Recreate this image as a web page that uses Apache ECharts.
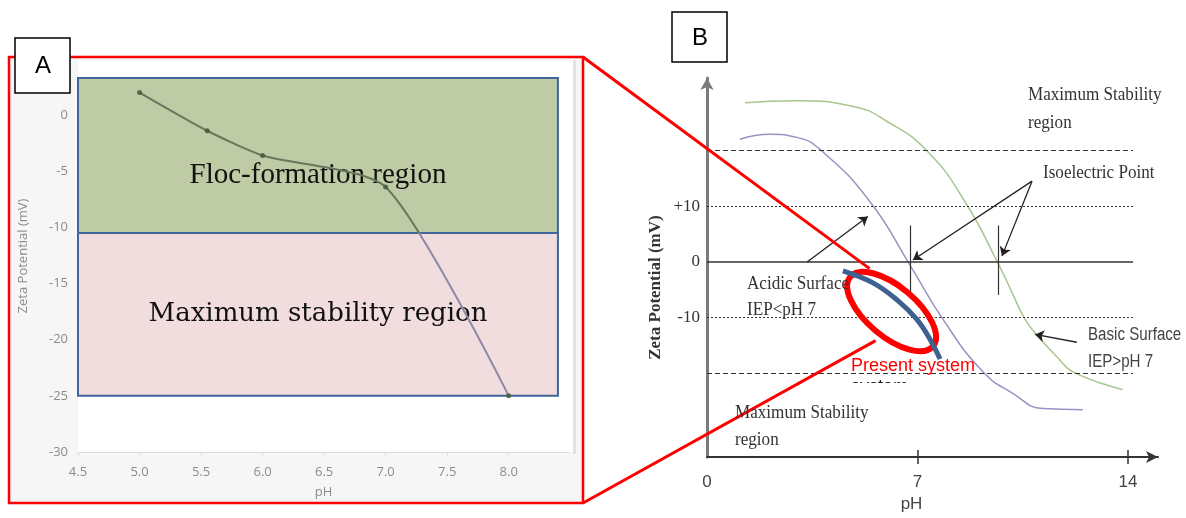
<!DOCTYPE html>
<html>
<head>
<meta charset="utf-8">
<script src="https://cdn.jsdelivr.net/npm/echarts@6/dist/echarts.min.js"></script>
<style>
  html, body { margin: 0; padding: 0; background: #ffffff; }
  #main { width: 1186px; height: 518px; }
</style>
</head>
<body>
<div id="main"></div>
<script>
// ---------- Panel A: measured zeta potential of the present system ----------
const phA = [5.0, 5.55, 6.0, 7.0, 8.0];
const zetaA = [2.0, -1.4, -3.6, -6.4, -25.0];
const xTicksA = [4.5, 5.0, 5.5, 6.0, 6.5, 7.0, 7.5, 8.0];
const yTicksA = [-30, -25, -20, -15, -10, -5, 0];
const bandPH = [4.5, 8.4];
const flocBand = [3.3, -10.5];          // floc-formation region (mV)
const stabilityBand = [-10.5, -25.0];   // maximum stability region (mV)

// ---------- Panel B: schematic zeta potential curves ----------
const greenPH = [1.26, 2.99, 4.86, 5.99, 7.32, 8.58, 9.71, 10.18, 10.58, 10.97, 11.64, 12.17, 13.83];
const greenZeta = [28.55, 28.9, 27.9, 25.2, 19.9, 10.8, -0.55, -5.9, -10.3, -13.1, -17.0, -19.7, -22.9];
const purplePH = [1.10, 2.10, 2.99, 3.82, 5.42, 6.75, 7.85, 9.18, 10.18, 11.17, 12.50];
const purpleZeta = [22.0, 22.9, 22.35, 19.9, 10.8, -0.55, -10.3, -19.7, -23.6, -26.3, -26.5];
const presentPH = [4.52, 5.52, 6.32, 6.98, 7.42, 7.75];
const presentZeta = [-1.6, -3.75, -6.8, -10.3, -13.9, -17.4];

const xTicksB = [0, 7, 14];
const yTicksB = [-10, 0, 10];
const refLevels = [20, 10, 0, -10, -20];
const refKinds = ['dashed', 'dotted', 'solid', 'dotted', 'dashed'];
const refEndPH = 14.17;
const iepPH = [6.75, 9.68];
const iepSpan = [6.55, -5.9];
// arrows: [from, to] in (pH, mV)
const arrowsB = [
  [[3.33, 0], [5.35, 8.15]],
  [[10.81, 14.5], [6.85, 0.35]],
  [[10.81, 14.5], [9.81, 1.05]],
  [[12.30, -14.4], [10.91, -13.0]]
];
const highlightCenter = [6.14, -8.9];   // centre of the "present system" ellipse

const zip = (a, b) => a.map((v, i) => [v, b[i]]);
const serif = '"Liberation Serif", "Times New Roman", serif';
const sans = '"Liberation Sans", Arial, sans-serif';
const uiFont = '"Open Sans", sans-serif';

const chart = echarts.init(document.getElementById('main'), null, { renderer: 'canvas' });

const dashFor = k => k === 'dashed' ? [5, 3] : (k === 'dotted' ? [2, 2] : 'solid');

// measured curve: greenish over the floc band, greyish purple over the stability band
const zMax = Math.max(...zetaA), zMin = Math.min(...zetaA);
const split = (zMax - flocBand[1]) / (zMax - zMin);
const measuredColor = new echarts.graphic.LinearGradient(0, 0, 0, 1, [
  { offset: 0, color: '#66785d' }, { offset: split, color: '#66785d' },
  { offset: split, color: '#8f88a6' }, { offset: 1, color: '#8f88a6' }
]);

const option = {
  animation: false,
  grid: [
    { left: 78, top: 60, width: 491, height: 392 },
    { left: 707, top: 78, width: 451, height: 383 }
  ],
  xAxis: [
    {
      gridIndex: 0, type: 'value', min: 4.5, max: 8.49,
      axisLine: { onZero: false, lineStyle: { color: '#dcdcdc' } },
      axisTick: { show: true, customValues: xTicksA, length: 4, lineStyle: { color: '#dddddd' } },
      splitLine: { show: false },
      axisLabel: { customValues: xTicksA, color: '#8c8c8c', fontSize: 13, margin: 14, fontFamily: uiFont,
        formatter: v => v.toFixed(1) },
      name: 'pH', nameLocation: 'middle', nameGap: 34,
      nameTextStyle: { color: '#8c8c8c', fontSize: 13, fontFamily: uiFont }
    },
    {
      gridIndex: 1, type: 'value', min: 0, max: 15,
      axisLine: { onZero: false, symbol: ['none', 'arrow'], symbolSize: [9, 12], lineStyle: { color: '#333333', width: 2 } },
      axisTick: { show: true, customValues: xTicksB.slice(1), length: 7, lineStyle: { color: '#333333', width: 1.5 } },
      axisLabel: { customValues: xTicksB, color: '#444444', fontSize: 17, margin: 17, fontFamily: sans },
      splitLine: { show: false },
      name: 'pH', nameLocation: 'middle', nameGap: 37,
      nameTextStyle: { color: '#444444', fontSize: 17, fontFamily: sans, padding: [0, 42, 0, 0] }
    },
    {
      gridIndex: 1, type: 'value', min: 0, max: 15, position: 'bottom',
      axisLine: { show: false, onZero: false },
      axisTick: { show: true, inside: true, customValues: xTicksB.slice(1), length: 7, lineStyle: { color: '#333333', width: 1.5 } },
      axisLabel: { show: false },
      splitLine: { show: false }
    }
  ],
  yAxis: [
    {
      gridIndex: 0, type: 'value', min: -30, max: 4.9,
      axisLine: { show: false, onZero: false }, axisTick: { show: false }, splitLine: { show: false },
      axisLabel: { customValues: yTicksA, color: '#8c8c8c', fontSize: 13, margin: 10, fontFamily: uiFont },
      name: 'Zeta Potential (mV)', nameLocation: 'middle', nameRotate: 90, nameGap: 48,
      nameTextStyle: { color: '#8c8c8c', fontSize: 13, fontFamily: uiFont }
    },
    {
      gridIndex: 1, type: 'value', min: -35, max: 33,
      axisLine: { show: true, onZero: false, symbol: ['none', 'arrow'], symbolSize: [10, 12], lineStyle: { color: '#7a7a7a', width: 3 } },
      axisTick: { show: false }, splitLine: { show: false },
      axisLabel: { customValues: yTicksB, color: '#333333', fontSize: 17, margin: 7, fontFamily: serif,
        formatter: v => v > 0 ? '+' + v : String(v) },
      name: 'Zeta Potential (mV)', nameLocation: 'middle', nameRotate: 90, nameGap: 43,
      nameTextStyle: { color: '#333333', fontSize: 17, fontWeight: 'bold', fontFamily: serif, padding: [0, 40, 0, 0] }
    }
  ],
  series: [
    {
      name: 'measured', type: 'line', xAxisIndex: 0, yAxisIndex: 0,
      data: zip(phA, zetaA), smooth: 0.22, showSymbol: false,
      lineStyle: { width: 2, color: measuredColor }, z: 3,
      markArea: {
        silent: true,
        itemStyle: { borderColor: '#41669a', borderWidth: 2 },
        data: [
          [{ xAxis: bandPH[0], yAxis: flocBand[0], itemStyle: { color: '#bfcba4' },
             label: { show: true, position: 'inside', offset: [0, 20], formatter: 'Floc-formation region',
                      fontFamily: serif, fontSize: 29, color: '#111111' } },
           { xAxis: bandPH[1], yAxis: flocBand[1] }],
          [{ xAxis: bandPH[0], yAxis: stabilityBand[0], itemStyle: { color: '#f1dddd' },
             label: { show: true, position: 'inside', formatter: 'Maximum stability region',
                      fontFamily: '"DejaVu Serif", serif', fontSize: 26, color: '#111111' } },
           { xAxis: bandPH[1], yAxis: stabilityBand[1] }]
        ]
      }
    },
    {
      name: 'points', type: 'scatter', xAxisIndex: 0, yAxisIndex: 0,
      data: zip(phA, zetaA), symbolSize: 5, itemStyle: { color: '#3f5538' }, z: 4
    },
    {
      name: 'basic', type: 'line', xAxisIndex: 1, yAxisIndex: 1,
      data: zip(greenPH, greenZeta), smooth: 0.5, showSymbol: false,
      lineStyle: { color: '#a7c78e', width: 1.5 }, z: 3
    },
    {
      name: 'acidic', type: 'line', xAxisIndex: 1, yAxisIndex: 1,
      data: zip(purplePH, purpleZeta), smooth: 0.5, showSymbol: false,
      lineStyle: { color: '#9d90c4', width: 1.5 }, z: 3
    },
    {
      name: 'present', type: 'line', xAxisIndex: 1, yAxisIndex: 1,
      data: zip(presentPH, presentZeta), smooth: 0.4, showSymbol: false,
      lineStyle: { color: '#3d6190', width: 5 }, z: 6
    },
    {
      name: 'levels', type: 'line', xAxisIndex: 1, yAxisIndex: 1, data: [],
      markLine: {
        silent: true, symbol: ['none', 'none'], label: { show: false },
        data: refLevels.map((lv, i) => [
          { coord: [0, lv], lineStyle: { color: '#333333', width: refKinds[i] === 'solid' ? 1.5 : 1.2, type: dashFor(refKinds[i]) } },
          { coord: [refEndPH, lv] }
        ]).concat(iepPH.map(p => [
          { coord: [p, iepSpan[0]], lineStyle: { color: '#333333', width: 1.2, type: 'solid' } },
          { coord: [p, iepSpan[1]] }
        ]))
      }
    },
    {
      name: 'arrows', type: 'line', xAxisIndex: 1, yAxisIndex: 1, data: [],
      markLine: {
        silent: true, symbol: ['none', 'arrow'], symbolSize: 9, label: { show: false },
        lineStyle: { color: '#222222', width: 1.3, type: 'solid' },
        data: arrowsB.map(a => [{ coord: a[0] }, { coord: a[1] }])
      }
    }
  ]
};

chart.setOption(option);

// Annotations: frames, panel letters, captions and the highlight ellipse
function txt(text, x, y, font, fill, sx) {
  return { type: 'text', z: 8, x, y, scaleX: sx || 1,
    style: { text, x: 0, y: 0, font, fill: fill || '#333333', textAlign: 'left', textVerticalAlign: 'middle' } };
}
const c = chart.convertToPixel({ gridIndex: 1 }, highlightCenter);
const rot = -40 * Math.PI / 180;
const graphics = [
  { type: 'rect', z: -5, shape: { x: 9, y: 57, width: 574, height: 446 }, style: { fill: '#f6f6f6' } },
  { type: 'rect', z: -4, shape: { x: 78, y: 60, width: 495, height: 392 }, style: { fill: '#ffffff' } },
  { type: 'line', z: -3, shape: { x1: 574.5, y1: 60, x2: 574.5, y2: 454 }, style: { stroke: '#e2e2e2', lineWidth: 3 } },
  { type: 'rect', z: 9, shape: { x: 9, y: 57, width: 574, height: 446 }, style: { fill: 'none', stroke: '#ff0000', lineWidth: 2.5 } },
  { type: 'rect', z: 10, shape: { x: 15, y: 38, width: 55, height: 55 }, style: { fill: '#ffffff', stroke: '#000000', lineWidth: 1.5 } },
  { type: 'text', z: 11, style: { text: 'A', x: 43, y: 66, font: '24px ' + sans, fill: '#000', textAlign: 'center', textVerticalAlign: 'middle' } },
  { type: 'rect', z: 10, shape: { x: 672, y: 12, width: 55, height: 50 }, style: { fill: '#ffffff', stroke: '#000000', lineWidth: 1.5 } },
  { type: 'text', z: 11, style: { text: 'B', x: 700, y: 38, font: '24px ' + sans, fill: '#000', textAlign: 'center', textVerticalAlign: 'middle' } },
  txt('Maximum Stability', 1028, 95, '18px ' + serif, '#333333', 0.95),
  txt('region', 1028, 123, '18px ' + serif, '#333333', 0.95),
  txt('Isoelectric Point', 1043, 173, '18px ' + serif, '#333333', 0.95),
  txt('Acidic Surface', 747, 284, '18px ' + serif, '#333333', 0.95),
  txt('IEP<pH 7', 747, 310, '18px ' + serif, '#333333', 0.95),
  txt('Maximum Stability', 735, 413, '18px ' + serif, '#333333', 0.95),
  txt('region', 735, 440, '18px ' + serif, '#333333', 0.95),
  txt('Basic Surface', 1088, 335, '18px ' + sans, '#444444', 0.84),
  txt('IEP>pH 7', 1088, 362, '18px ' + sans, '#444444', 0.84),
  txt('system', 851, 387, '18px ' + sans, '#111111'),
  { type: 'rect', z: 9, shape: { x: 846, y: 383, width: 90, height: 16 }, style: { fill: '#ffffff' } },
  txt('Present system', 851, 366, '18px ' + sans, '#ff0000'),
  { type: 'line', z: 5, shape: { x1: 583, y1: 57, x2: c[0] - 22, y2: c[1] - 43 }, style: { stroke: '#ff0000', lineWidth: 3 } },
  { type: 'line', z: 5, shape: { x1: 583, y1: 503, x2: c[0] - 16, y2: c[1] + 29 }, style: { stroke: '#ff0000', lineWidth: 3 } },
  { type: 'ellipse', z: 5, x: c[0], y: c[1], rotation: rot, shape: { cx: 0, cy: 0, rx: 54, ry: 25 },
    style: { fill: 'none', stroke: '#ff0000', lineWidth: 6 } }
];
chart.setOption({ graphic: graphics });
</script>
</body>
</html>
